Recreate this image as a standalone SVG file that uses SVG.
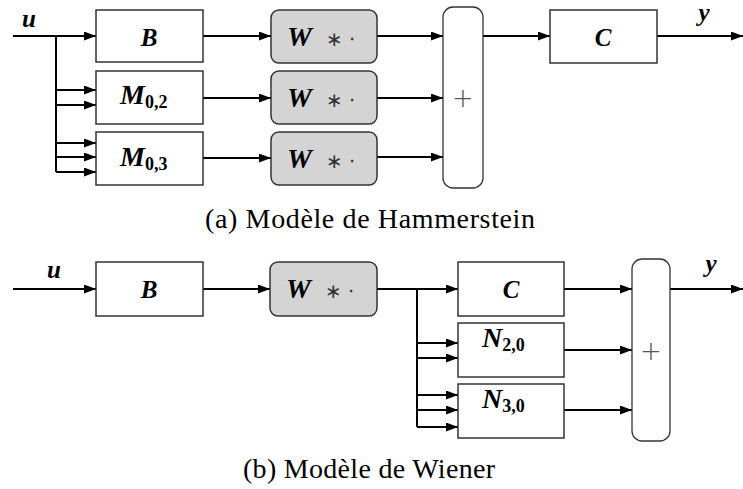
<svg xmlns="http://www.w3.org/2000/svg" width="743" height="489" viewBox="0 0 743 489">
<style>
.box{fill:#fff;stroke:#333;stroke-width:1.5}
.wbox{fill:#d4d4d4;stroke:#333;stroke-width:1.5}
.sum{fill:#fff;stroke:#333;stroke-width:1.3}
.ln{fill:none;stroke:#000;stroke-width:2}
.ar{fill:none;stroke:#000;stroke-width:2;marker-end:url(#ah)}
.m{font-family:"Liberation Serif",serif;font-weight:bold;font-style:italic;fill:#000}
.sub{font-family:"Liberation Serif",serif;font-weight:bold;font-style:normal;font-size:18px}
.op{font-family:"DejaVu Sans",sans-serif;font-weight:normal;font-style:normal;fill:#333}
.plus{font-family:"DejaVu Sans",sans-serif;font-weight:200;font-size:26px;fill:#555;text-anchor:middle}
.cap{font-family:"Liberation Serif",serif;font-size:28px;fill:#000;text-anchor:middle}
</style>
<defs>
<marker id="ah" markerUnits="userSpaceOnUse" markerWidth="13" markerHeight="10" refX="12" refY="4.5" orient="auto">
<path d="M0,0 L12,4.5 L0,9 z" fill="#000"/>
</marker>
</defs>

<g id="connectors">
<path class="ar" d="M13,36 H96"/>
<path class="ln" d="M56,36 V172"/>
<path class="ar" d="M56,90 H96"/>
<path class="ar" d="M56,105 H96"/>
<path class="ar" d="M56,143 H96"/>
<path class="ar" d="M56,157 H96"/>
<path class="ar" d="M56,172 H96"/>
<path class="ar" d="M203,36 H271"/>
<path class="ar" d="M203,98 H271"/>
<path class="ar" d="M203,158 H271"/>
<path class="ar" d="M377,36 H443"/>
<path class="ar" d="M377,98 H443"/>
<path class="ar" d="M377,157 H443"/>
<path class="ar" d="M483,36 H550"/>
<path class="ar" d="M657,36 H743"/>
<path class="ar" d="M13,289 H96"/>
<path class="ar" d="M203,289 H270"/>
<path class="ar" d="M377,289 H458"/>
<path class="ln" d="M417,289 V427"/>
<path class="ar" d="M417,343 H458"/>
<path class="ar" d="M417,358 H458"/>
<path class="ar" d="M417,395 H458"/>
<path class="ar" d="M417,410 H458"/>
<path class="ar" d="M417,427 H458"/>
<path class="ar" d="M564,289 H632"/>
<path class="ar" d="M564,350 H632"/>
<path class="ar" d="M564,410 H632"/>
<path class="ar" d="M670,289 H743"/>
</g>

<g id="labels">
<text class="m" x="29" y="27" font-size="25" text-anchor="middle">u</text>
<text class="m" x="704" y="21" font-size="25" text-anchor="middle">y</text>
<text class="m" x="54" y="278" font-size="25" text-anchor="middle">u</text>
<text class="m" x="711" y="272" font-size="25" text-anchor="middle">y</text>
</g>

<g id="a_B"><rect class="box" x="96" y="10" width="107" height="52"/>
<text class="m" x="149" y="46" font-size="25" text-anchor="middle">B</text></g>
<g id="a_M02"><rect class="box" x="96" y="71" width="107" height="53"/>
<text class="m" x="120" y="104" font-size="28">M<tspan class="sub" dy="4">0,2</tspan></text></g>
<g id="a_M03"><rect class="box" x="96" y="132" width="107" height="53"/>
<text class="m" x="120" y="166" font-size="28">M<tspan class="sub" dy="4">0,3</tspan></text></g>
<g id="a_W1"><rect class="wbox" x="271" y="10" width="106" height="53" rx="8"/>
<text class="m" x="287" y="46" font-size="28">W<tspan class="op" x="326" font-size="20">∗</tspan><tspan class="op" x="349" font-size="20">⋅</tspan></text></g>
<g id="a_W2"><rect class="wbox" x="271" y="71" width="106" height="53" rx="8"/>
<text class="m" x="287" y="107" font-size="28">W<tspan class="op" x="326" font-size="20">∗</tspan><tspan class="op" x="349" font-size="20">⋅</tspan></text></g>
<g id="a_W3"><rect class="wbox" x="271" y="132" width="106" height="53" rx="8"/>
<text class="m" x="287" y="168" font-size="28">W<tspan class="op" x="326" font-size="20">∗</tspan><tspan class="op" x="349" font-size="20">⋅</tspan></text></g>
<g id="a_sum"><rect class="sum" x="443" y="7" width="40" height="181" rx="10"/>
<text class="plus" x="463" y="107">+</text></g>
<g id="a_C"><rect class="box" x="550" y="10" width="107" height="53"/>
<text class="m" x="603" y="46" font-size="25" text-anchor="middle">C</text></g>
<text id="cap_a" class="cap" x="370" y="228" textLength="330" lengthAdjust="spacing">(a) Modèle de Hammerstein</text>

<g id="b_B"><rect class="box" x="96" y="262" width="107" height="54"/>
<text class="m" x="149" y="298" font-size="25" text-anchor="middle">B</text></g>
<g id="b_W"><rect class="wbox" x="270" y="262" width="107" height="54" rx="8"/>
<text class="m" x="286" y="298" font-size="28">W<tspan class="op" x="325" font-size="20">∗</tspan><tspan class="op" x="348" font-size="20">⋅</tspan></text></g>
<g id="b_C"><rect class="box" x="458" y="262" width="106" height="54"/>
<text class="m" x="511" y="298" font-size="25" text-anchor="middle">C</text></g>
<g id="b_N20"><rect class="box" x="458" y="323" width="106" height="54"/>
<text class="m" x="482" y="347" font-size="28">N<tspan class="sub" dy="4">2,0</tspan></text></g>
<g id="b_N30"><rect class="box" x="458" y="384" width="106" height="54"/>
<text class="m" x="482" y="408" font-size="28">N<tspan class="sub" dy="4">3,0</tspan></text></g>
<g id="b_sum"><rect class="sum" x="632" y="259" width="38" height="182" rx="10"/>
<text class="plus" x="651" y="360">+</text></g>
<text id="cap_b" class="cap" x="369" y="478" textLength="252" lengthAdjust="spacing">(b) Modèle de Wiener</text>
</svg>
